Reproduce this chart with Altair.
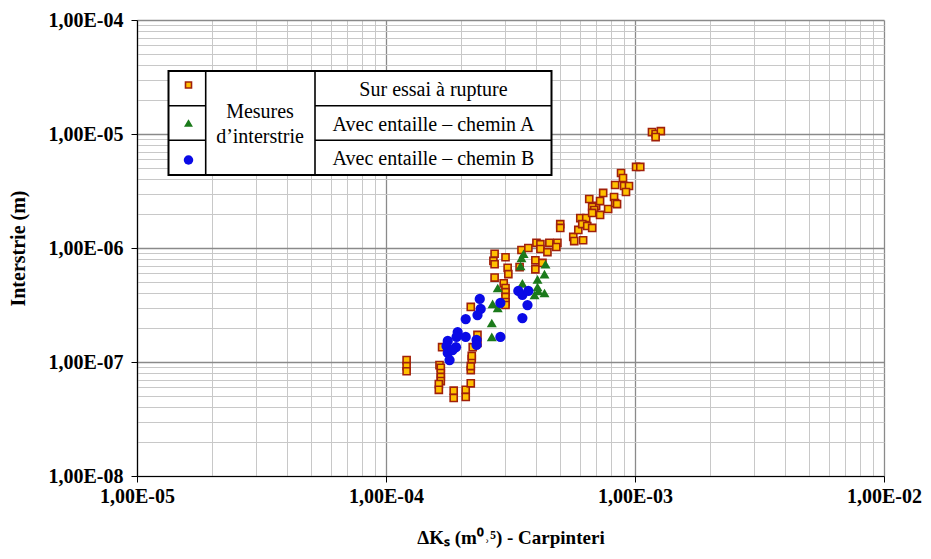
import altair as alt
import pandas as pd

# ---- data ----
sur_x = [1.21e-4, 1.21e-4, 1.21e-4, 1.68e-4, 1.64e-4, 1.66e-4, 1.66e-4, 1.66e-4, 1.66e-4, 1.63e-4,
         1.63e-4, 1.87e-4, 1.87e-4, 2.09e-4, 2.09e-4, 2.19e-4, 2.19e-4, 2.19e-4, 2.21e-4, 2.21e-4,
         2.19e-4, 2.33e-4, 2.33e-4, 2.23e-4, 2.73e-4, 2.70e-4, 2.73e-4, 3.02e-4, 3.08e-4, 3.10e-4,
         2.73e-4, 2.97e-4, 3.02e-4, 3.02e-4, 3.02e-4, 3.02e-4, 3.02e-4, 3.50e-4, 3.73e-4, 4.02e-4,
         4.17e-4, 4.17e-4, 4.45e-4, 4.53e-4, 4.88e-4, 4.83e-4, 3.98e-4, 3.98e-4, 3.44e-4, 4.25e-4,
         5.01e-4, 5.01e-4, 5.65e-4, 5.70e-4, 6.19e-4, 5.92e-4, 6.03e-4, 6.37e-4, 6.14e-4, 6.43e-4,
         6.73e-4, 6.55e-4, 6.98e-4, 6.73e-4, 6.86e-4, 6.73e-4, 7.24e-4, 7.24e-4, 7.45e-4, 7.80e-4,
         8.24e-4, 8.32e-4, 8.47e-4, 8.32e-4, 9.04e-4, 9.46e-4, 9.20e-4, 8.79e-4, 8.95e-4, 1.01e-3,
         1.05e-3, 1.17e-3, 1.21e-3, 1.27e-3, 1.21e-3]
sur_y = [1.04e-7, 9.2e-8, 8.3e-8, 1.35e-7, 9.4e-8, 8.9e-8, 8.0e-8, 7.4e-8, 6.8e-8, 6.4e-8,
         5.7e-8, 5.6e-8, 4.83e-8, 5.7e-8, 4.93e-8, 6.5e-8, 8.5e-8, 9.2e-8, 1.06e-7, 1.13e-7,
         3.04e-7, 1.73e-7, 1.47e-7, 1.35e-7, 8.9e-7, 7.7e-7, 7.2e-7, 8.3e-7, 6.7e-7, 5.9e-7,
         5.5e-7, 4.9e-7, 4.46e-7, 4.1e-7, 3.72e-7, 3.36e-7, 3.16e-7, 9.6e-7, 1.0e-6, 1.11e-6,
         1.08e-6, 9.8e-7, 9.2e-7, 1.11e-6, 1.11e-6, 1.02e-6, 7.8e-7, 6.5e-7, 6.8e-7, 7.4e-7,
         1.62e-6, 1.50e-6, 1.25e-6, 1.15e-6, 1.17e-6, 1.44e-6, 1.83e-6, 1.83e-6, 1.62e-6, 1.56e-6,
         1.50e-6, 2.69e-6, 2.34e-6, 2.29e-6, 2.15e-6, 2.03e-6, 1.95e-6, 2.58e-6, 3.04e-6, 2.20e-6,
         2.80e-6, 2.48e-6, 2.43e-6, 3.57e-6, 3.50e-6, 3.50e-6, 3.10e-6, 4.55e-6, 4.11e-6, 5.14e-6,
         5.14e-6, 1.04e-5, 1.0e-5, 1.06e-5, 9.4e-6]

a_x = [2.66e-4, 2.66e-4, 2.68e-4, 2.81e-4, 2.81e-4, 3.53e-4, 3.50e-4, 3.57e-4, 3.47e-4, 4.06e-4,
       4.33e-4, 4.37e-4, 4.06e-4, 4.09e-4, 3.95e-4, 4.33e-4]
a_y = [1.66e-7, 2.20e-7, 3.23e-7, 2.98e-7, 4.46e-7, 4.9e-7, 8.2e-7, 8.9e-7, 6.95e-7, 5.3e-7,
       5.9e-7, 7.2e-7, 4.55e-7, 4.2e-7, 3.87e-7, 4.03e-7]

b_x = [2.38e-4, 2.40e-4, 2.33e-4, 2.09e-4, 1.94e-4, 1.92e-4, 2.09e-4, 1.77e-4, 1.75e-4, 1.91e-4,
       1.77e-4, 1.80e-4, 2.31e-4, 2.31e-4, 2.88e-4, 2.88e-4, 3.40e-4, 3.53e-4, 3.73e-4, 3.70e-4,
       3.53e-4, 1.85e-4]
b_y = [3.57e-7, 2.92e-7, 2.58e-7, 2.38e-7, 1.83e-7, 1.66e-7, 1.66e-7, 1.53e-7, 1.38e-7, 1.35e-7,
       1.20e-7, 1.04e-7, 1.56e-7, 1.41e-7, 1.66e-7, 3.3e-7, 4.2e-7, 3.87e-7, 4.2e-7, 3.16e-7,
       2.43e-7, 1.27e-7]

legend_group = ["Mesures", "d\u2019interstrie"]
legend_labels = ["Sur essai \u00e0 rupture", "Avec entaille \u2013 chemin A", "Avec entaille \u2013 chemin B"]

x_ticks = [m * 10.0 ** e for e in range(-5, -2) for m in range(1, 10)] + [1e-2]
y_ticks = [m * 10.0 ** e for e in range(-8, -4) for m in range(1, 10)] + [1e-4]

FONT = "Liberation Serif"
ORANGE_FILL = "#FFC000"
ORANGE_STROKE = "#A0200A"
GREEN = "#1B7A1B"
BLUE = "#0A0AE6"

IS_MAJOR = "abs(log(datum.value)/LN10 - round(log(datum.value)/LN10)) < 0.001"
LABEL = "(" + IS_MAJOR + ") ? '1,00E-0' + (-round(log(datum.value)/LN10)) : ''"

def make_axis(values, title, **kw):
    return alt.Axis(
        values=values,
        labelExpr=LABEL,
        labelOverlap=False,
        labelFlush=False,
        labelFont=FONT,
        labelFontWeight="bold",
        labelFontSize=20,
        labelColor="black",
        title=title,
        titleFont=FONT,
        titleFontWeight="bold",
        titleColor="black",
        domainColor="black",
        domainWidth=1.2,
        tickSize=6,
        tickColor={"condition": {"test": IS_MAJOR, "value": "black"}, "value": "transparent"},
        gridColor={"condition": {"test": IS_MAJOR, "value": "#8a8a8a"}, "value": "#c8c8c8"},
        gridWidth={"condition": {"test": IS_MAJOR, "value": 1.3}, "value": 1},
        **kw,
    )

x_axis = make_axis(x_ticks, "\u0394K\u209b (m\u2070\u02d2\u2075) - Carpinteri", labelPadding=4,
                   titleY=52, titleBaseline="top", titleFontSize=19)
y_axis = make_axis(y_ticks, "Interstrie (m)", labelPadding=8, titleX=-109, titleFontSize=20)

xs = alt.Scale(type="log", domain=[1e-5, 1e-2], nice=False)
ys = alt.Scale(type="log", domain=[1e-8, 1e-4], nice=False)

def series(xv, yv):
    return pd.DataFrame({"x": xv, "y": yv})

enc = dict(
    x=alt.X("x:Q", scale=xs, axis=x_axis),
    y=alt.Y("y:Q", scale=ys, axis=y_axis),
)

sur = alt.Chart(series(sur_x, sur_y)).mark_point(
    shape="square", filled=True, fill=ORANGE_FILL, stroke=ORANGE_STROKE, strokeWidth=1.6, size=50, opacity=1
).encode(**enc)
cha = alt.Chart(series(a_x, a_y)).mark_point(
    shape="triangle-up", filled=True, color=GREEN, size=100, opacity=1
).encode(**enc)
chb = alt.Chart(series(b_x, b_y)).mark_point(
    shape="circle", filled=True, color=BLUE, size=105, opacity=1
).encode(**enc)

dummy = pd.DataFrame({"k": [0]})

def rect(x1, x2, y1, y2, **kw):
    return alt.Chart(dummy).mark_rect(**kw).encode(
        x=alt.value(x1), x2=alt.value(x2), y=alt.value(y1), y2=alt.value(y2))

def rule(x1, x2, y1, y2, w=1.6):
    return alt.Chart(dummy).mark_rule(color="black", strokeWidth=w).encode(
        x=alt.value(x1), x2=alt.value(x2), y=alt.value(y1), y2=alt.value(y2))

def text(t, x, y, **kw):
    return alt.Chart(dummy).mark_text(
        text=t, font=FONT, fontSize=20, color="black", align="center", baseline="alphabetic", **kw
    ).encode(x=alt.value(x), y=alt.value(y))

L, R, T, B = 31.5, 414.5, 51, 155
C1, C2 = 68.7, 178
R1, R2 = 85.7, 120.3

legend_layers = [
    rect(L, R, T, B, fill="white", stroke="black", strokeWidth=2),
    rule(C1, C1, T, B), rule(C2, C2, T, B),
    rule(L, C1, R1, R1), rule(L, C1, R2, R2),
    rule(C2, R, R1, R1), rule(C2, R, R2, R2),
    alt.Chart(dummy).mark_point(shape="square", filled=True, fill=ORANGE_FILL, stroke=ORANGE_STROKE,
                                strokeWidth=1.6, size=36, opacity=1).encode(x=alt.value(51.5), y=alt.value(65)),
    alt.Chart(dummy).mark_point(shape="triangle-up", filled=True, color=GREEN, size=80, opacity=1).encode(
        x=alt.value(51.5), y=alt.value(103)),
    alt.Chart(dummy).mark_point(shape="circle", filled=True, color=BLUE, size=90, opacity=1).encode(
        x=alt.value(51.5), y=alt.value(140)),
    text(legend_group[0], 123, 98),
    text(legend_group[1], 123, 122.5),
    text(legend_labels[0], 296.5, 76),
    text(legend_labels[1], 296.5, 110.5),
    text(legend_labels[2], 296.5, 145),
]

chart = alt.layer(sur, cha, chb, *legend_layers).properties(
    width=747,
    height=456,
    autosize=alt.AutoSizeParams(type="none"),
    padding={"left": 129, "top": 12, "right": 39, "bottom": 75},
).configure_view(stroke="transparent")

chart.save("out.html", embed_options={"renderer": "svg", "actions": False})
